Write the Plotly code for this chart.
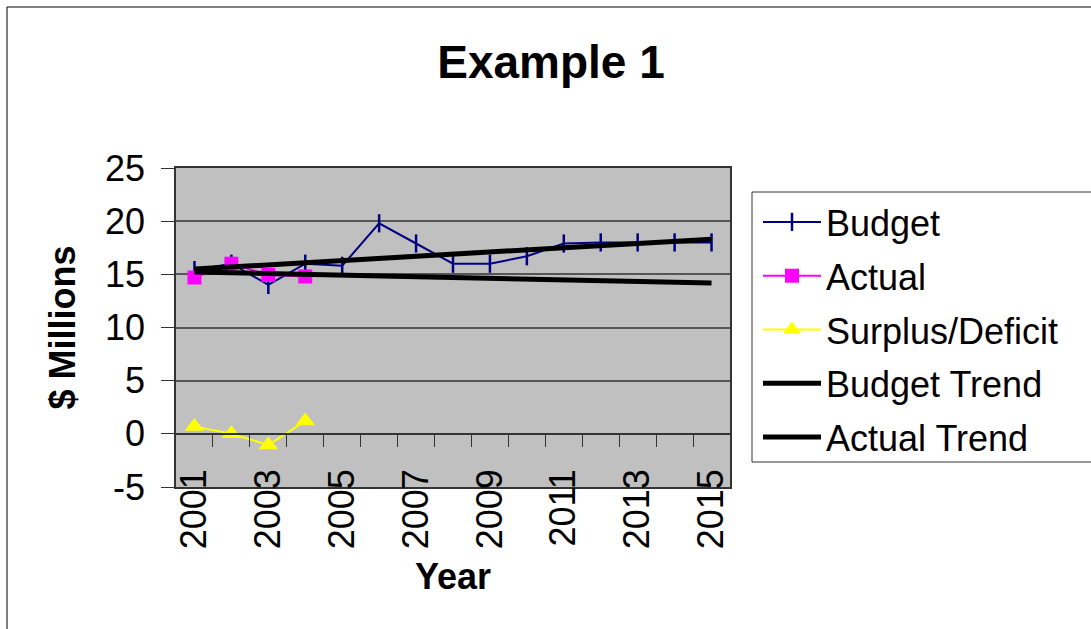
import numpy as np
import plotly.graph_objects as go

years = list(range(2001, 2016))
budget = [15.4, 16.0, 14.0, 16.0, 15.8, 19.8, 17.9, 16.0, 16.0, 16.7, 17.9, 18.0, 18.0, 18.0, 18.0]
actual_years = [2001, 2002, 2003, 2004]
actual = [14.7, 16.0, 14.95, 14.8]
surplus = [0.7, 0.0, -1.05, 1.2]
x_tick_labels = [str(y) for y in range(2001, 2016, 2)]
y_ticks = [-5, 0, 5, 10, 15, 20, 25]
y_tick_labels = ["-5", "0", "5", "10", "15", "20", "25"]

# linear trend lines (least squares, like spreadsheet trendlines)
bx = np.array(years, dtype=float)
bcoef = np.polyfit(bx, budget, 1)
budget_trend = np.polyval(bcoef, bx)
acoef = np.polyfit(np.array(actual_years, dtype=float), actual, 1)
actual_trend = np.polyval(acoef, bx)

FONT = "Liberation Sans, Arial, sans-serif"
W, H = 1091, 629
# target plot area in screen pixels: x 176..730, y 168..487
L, T = 176, 168
R, B = W - 730, H - 487
pw, ph = W - L - R, H - T - B


def px_x(p):
    return (p - L) / pw


def px_y(p):
    return (H - B - p) / ph


fig = go.Figure()
fig.add_trace(go.Scatter(
    x=years, y=budget, name="Budget", mode="lines+markers",
    line=dict(color="#000080", width=2),
    marker=dict(symbol="line-ns", size=13, line=dict(color="#000080", width=2.5)),
    legendgroup="a"))
fig.add_trace(go.Scatter(
    x=actual_years, y=actual, name="Actual", mode="lines+markers",
    line=dict(color="#FF00FF", width=2),
    marker=dict(symbol="square", size=14, color="#FF00FF"),
    legendgroup="b"))
fig.add_trace(go.Scatter(
    x=actual_years, y=surplus, name="Surplus/Deficit", mode="lines+markers",
    line=dict(color="#FFFF00", width=2),
    marker=dict(symbol="triangle-up", size=17, color="#FFFF00"),
    xaxis="x2", legendgroup="c"))
fig.add_trace(go.Scatter(
    x=years, y=budget_trend, name="Budget Trend", mode="lines",
    line=dict(color="#000000", width=5), legendgroup="d"))
fig.add_trace(go.Scatter(
    x=years, y=actual_trend, name="Actual Trend", mode="lines",
    line=dict(color="#000000", width=5), legendgroup="e"))

fig.update_layout(
    width=W, height=H,
    margin=dict(l=L, r=R, t=T, b=B, autoexpand=False),
    paper_bgcolor="white", plot_bgcolor="#C0C0C0",
    font=dict(family=FONT, size=36, color="black"),
    title=dict(text="<b>Example 1</b>", font=dict(size=46, family=FONT, color="black"),
               x=551 / W, xanchor="center",
               y=1 - 62 / H, yanchor="middle"),
    showlegend=True,
    legend=dict(x=px_x(758), y=px_y(192), xanchor="left", yanchor="top",
                bgcolor="rgba(0,0,0,0)", borderwidth=0,
                font=dict(size=36, family=FONT), itemwidth=58,
                traceorder="grouped", tracegroupgap=4),
    xaxis=dict(range=[2000.5, 2015.5], tickvals=[int(t) for t in x_tick_labels],
               ticktext=x_tick_labels, tickangle=-90, ticks="",
               showgrid=False, zeroline=False, showline=True, mirror=True,
               linecolor="#333333", linewidth=1.5,
               ticklabelstandoff=-34,
               tickfont=dict(size=36),
               title=dict(text="<b>Year</b>", font=dict(size=36), standoff=16)),
    xaxis2=dict(range=[2000.5, 2015.5], overlaying="x", anchor="free",
                position=(0 - y_ticks[0]) / (y_ticks[-1] - y_ticks[0]),
                tickvals=[y + 0.5 for y in years[:-1]], showticklabels=False,
                ticks="outside", ticklen=12, tickcolor="#333333", tickwidth=1,
                showline=True, linecolor="#333333", linewidth=1.5,
                showgrid=False, zeroline=False),
    yaxis=dict(range=[y_ticks[0], y_ticks[-1]], tickvals=y_ticks, ticktext=y_tick_labels,
               ticks="outside", ticklen=13, tickcolor="#333333",
               showgrid=True, gridcolor="#555555", gridwidth=1.5,
               zeroline=False, showline=True, mirror=True,
               linecolor="#333333", linewidth=1.5,
               ticklabelstandoff=9, tickfont=dict(size=36),
               title=dict(text="<b>$ Millions</b>", font=dict(size=36), standoff=18)),
)

# outer chart frame
fig.add_shape(type="rect", xref="paper", yref="paper",
              x0=px_x(7), y0=px_y(700), x1=px_x(1200), y1=px_y(7),
              line=dict(color="black", width=1), fillcolor="rgba(0,0,0,0)", layer="below")
# legend box (extends past the right edge, as in the original)
fig.add_shape(type="rect", xref="paper", yref="paper",
              x0=px_x(752), y0=px_y(462), x1=px_x(1200), y1=px_y(192),
              line=dict(color="#333333", width=1), fillcolor="white", layer="below")

fig.write_html(
    "out.html",
    config={"displayModeBar": False},
    post_script="document.body.style.margin='0';document.body.style.overflow='hidden';",
)
